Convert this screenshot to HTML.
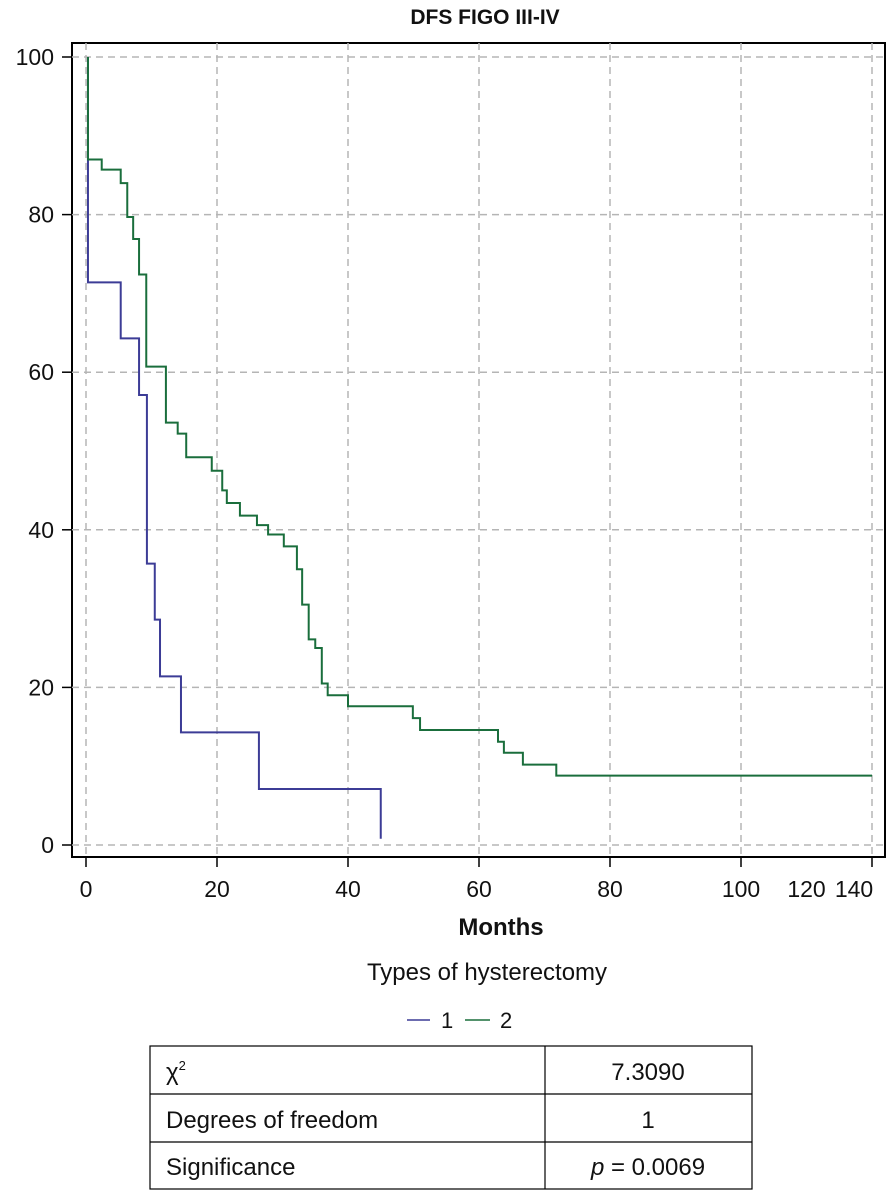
<!DOCTYPE html>
<html><head><meta charset="utf-8"><style>
body{margin:0;background:#fff;font-family:"Liberation Sans","DejaVu Sans",sans-serif}
svg text{font-family:"Liberation Sans","DejaVu Sans",sans-serif;fill:#111}
</style></head><body>
<svg width="895" height="1190" id="c">
<text x="485" y="24" font-size="21" font-weight="bold" text-anchor="middle">DFS FIGO III-IV</text>
<rect x="72" y="43" width="813" height="814" fill="none" stroke="#000" stroke-width="2"/>
<g id="grid"></g><g id="axes"></g><g id="series"></g>
<text x="501" y="935" font-size="24" font-weight="bold" text-anchor="middle">Months</text>
<text x="487" y="980" font-size="24" text-anchor="middle">Types of hysterectomy</text>
<g><line x1="407" y1="1020" x2="430" y2="1020" stroke="#3c3c96" stroke-width="1.5"/><text x="441" y="1028" font-size="22">1</text></g>
<g><line x1="465" y1="1020" x2="490" y2="1020" stroke="#1a6e3c" stroke-width="1.5"/><text x="500" y="1028" font-size="22">2</text></g>
<g stroke="#000" stroke-width="1.2" fill="none">
<rect x="150" y="1046" width="602" height="143"/>
<line x1="150" y1="1094" x2="752" y2="1094"/><line x1="150" y1="1142" x2="752" y2="1142"/>
<line x1="545" y1="1046" x2="545" y2="1189"/>
</g>
<text x="166" y="1080" font-size="24">χ<tspan font-size="13" dy="-10">2</tspan></text>
<text x="648" y="1080" font-size="24" text-anchor="middle">7.3090</text>
<text x="166" y="1128" font-size="24">Degrees of freedom</text>
<text x="648" y="1128" font-size="24" text-anchor="middle">1</text>
<text x="166" y="1175" font-size="24">Significance</text>
<text x="648" y="1175" font-size="24" text-anchor="middle"><tspan font-style="italic">p</tspan> = 0.0069</text>
</svg>
<script>
const xTicks=[0,20,40,60,80,100,120];
const xTickLabels=["0","20","40","60","80","100","140"];
const yTicks=[0,20,40,60,80,100];
const blueTimes=[0,0.3,5.3,8.1,9.3,10.5,11.3,14.5,26.4,45];
const blueSurv=[100,71.4,64.3,57.1,35.7,28.6,21.4,14.3,7.1,0.8];
const blueEnd=45;
const greenTimes=[0,0.3,2.4,5.3,6.3,7.2,8.1,9.2,12.2,14,15.3,19.2,20.8,21.5,23.5,26.1,27.8,30.2,32.2,33,34,35,36,36.9,40,49.9,51,62.9,63.8,66.7,71.8];
const greenSurv=[100,87,85.7,84,79.7,76.9,72.4,60.7,53.6,52.2,49.2,47.5,45,43.4,41.8,40.6,39.4,37.9,35,30.5,26.1,25,20.5,19,17.6,16.1,14.6,13.1,11.7,10.2,8.8];
const greenEnd=120;
const X=v=>86+v*6.55, Y=v=>845-v*7.88;
const NS="http://www.w3.org/2000/svg";
function mk(t,a,p){const e=document.createElementNS(NS,t);for(const k in a)e.setAttribute(k,a[k]);p.appendChild(e);return e;}
const grid=document.getElementById('grid'),axes=document.getElementById('axes'),ser=document.getElementById('series');
xTicks.forEach((v,i)=>{
 const g=mk('line',{x1:X(v),x2:X(v),y1:43,y2:857,stroke:'#b5b5b5','stroke-width':1.5,'stroke-dasharray':'7 5'},grid);
 
 
 const t=mk('line',{x1:X(v),x2:X(v),y1:857,y2:867,stroke:'#000','stroke-width':1.5},axes);
 
 
 const l=mk('text',{x:X(v)-(i==6?18:0),y:897,'font-size':23,'text-anchor':'middle'},axes);
 l.textContent=xTickLabels[i];
 
 
});
const extra=mk('text',{x:X(110),y:897,'font-size':23,'text-anchor':'middle'},axes);
extra.textContent="120";


yTicks.forEach(v=>{
 const g=mk('line',{x1:72,x2:885,y1:Y(v),y2:Y(v),stroke:'#b5b5b5','stroke-width':1.5,'stroke-dasharray':'7 5'},grid);
 
 
 const t=mk('line',{x1:62,x2:72,y1:Y(v),y2:Y(v),stroke:'#000','stroke-width':1.5},axes);
 
 
 const l=mk('text',{x:54,y:Y(v)+8,'font-size':23,'text-anchor':'end'},axes);
 l.textContent=v;
 
 
});
function step(ts,ss,end,col,name){
 let d='M'+X(ts[0]+0.3)+' '+Y(ss[0]);
 for(let i=1;i<ts.length;i++){d+=' H'+X(ts[i])+' V'+Y(ss[i]);}
 d+=' H'+X(end);
 const p=mk('path',{d:d,fill:'none',stroke:col,'stroke-width':2},ser);
 
 
}
step(blueTimes,blueSurv,blueEnd,'#3c3c96','survival-curve-1');
step(greenTimes,greenSurv,greenEnd,'#1a6e3c','survival-curve-2');
</script>
</body></html>
